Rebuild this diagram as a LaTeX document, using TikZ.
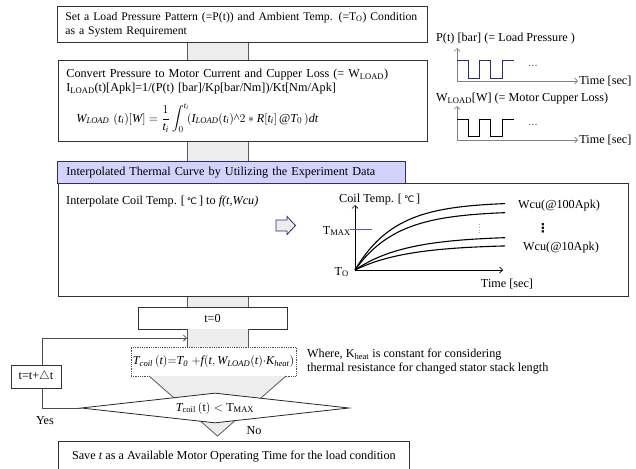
\documentclass[tikz,border=0pt]{standalone}
\usepackage{amsmath}
\usepackage{fontspec}
\setmainfont{Liberation Serif}
\newfontfamily\symfont{DejaVu Sans}
\usepackage{tikz}
\usetikzlibrary{calc,arrows.meta,positioning,shapes.geometric}
\definecolor{navyx}{HTML}{2A2A80}
\definecolor{headbg}{HTML}{D2D2FA}
\definecolor{shaftbg}{HTML}{EDEDED}
\definecolor{tickx}{HTML}{5858A8}
\newcommand{\degc}{{\symfont\small ℃}}
\tikzset{
  box/.style={draw=black!80,line width=0.8pt,fill=white,align=left,inner xsep=8pt,inner ysep=0pt},
  lbl/.style={inner sep=0pt},
  tip/.style={-{Straight Barb[length=3pt,width=6pt]}},
  axg/.style={draw=black!50,line width=0.7pt,tip},
  axk/.style={draw=black,line width=0.7pt,tip},
  curve/.style={black,line width=1.1pt},
  shaftedge/.style={draw=black!65,line width=0.8pt},
  loopline/.style={draw=black!70,line width=0.8pt}
}
\newcommand{\shaftseg}[2]{%
  \fill[shaftbg] (\shl,0 |- #1.south) rectangle (\shr,0 |- #2.north);
  \draw[shaftedge] (\shl,0 |- #1.south) -- (\shl,0 |- #2.north) (\shr,0 |- #1.south) -- (\shr,0 |- #2.north);}
\begin{document}
\begin{tikzpicture}[x=1pt,y=-1pt,font=\fontsize{12.2}{14}\selectfont]
\useasboundingbox (0,0) rectangle (636,468);
\def\shl{187}\def\shr{248}

\node[box,anchor=north west,minimum width=370pt,minimum height=36pt,text width=354pt,font=\fontsize{11.7}{14}\selectfont] (req) at (57,6)
  {\mbox{Set a Load Pressure Pattern (=P(t)) and Ambient Temp. (=T$_{\mathrm{O}}$) Condition}\\as a System Requirement};
\node[box,anchor=north west,minimum width=369pt,minimum height=81pt,text width=353pt] (conv) at (58,60)
  {Convert Pressure to Motor Current and Cupper Loss (= W$_{\mathrm{LOAD}}$)\\
   I$_{\mathrm{LOAD}}$(t)[Apk]=1/(P(t) [bar]/Kp[bar/Nm])/Kt[Nm/Apk]\\[9pt]
   \hspace*{10pt}$\mathit{W_{LOAD}}\ (\mathit{t_i})[\mathit{W}]=\dfrac{1}{\mathit{t_i}}\displaystyle\int_0^{\mathit{t_i}}\!(\mathit{I_{LOAD}}(\mathit{t_i})\text{\textasciicircum}2*\mathit{R}[\mathit{t_i}]\,@\mathit{T}_0\,)\mathit{dt}$};
\node[box,anchor=north west,minimum width=570pt,minimum height=113pt] (therm) at (58,183) {};
\node[box,anchor=north west,minimum width=348pt,minimum height=22pt,text width=330pt,fill=headbg,draw=navyx,inner xsep=9pt] (hdr) at (57,161)
  {Interpolated Thermal Curve by Utilizing the Experiment Data};
\node[lbl,anchor=west] (interp) at (66,202) {Interpolate Coil Temp. [\,\degc\,] to \textit{f(t,Wcu)}};
\draw[navyx,line width=0.8pt,fill=shaftbg] (276,220) -- (287,220) -- (287,216.5) -- (295.5,225.5) -- (287,234.5) -- (287,231) -- (276,231) -- cycle;

\coordinate (c0) at (355,270);
\draw[axk] (c0) -- ++(0,-65);
\draw[axk] (c0) -- ++(148,0);
\node[lbl,anchor=west] (ctemp) at (339,200) {Coil Temp. [\,\degc\,]};
\node[lbl] (ctime) at (507,284) {Time [sec]};
\node[lbl,anchor=east] (tzero) at (349,272) {T$_{\mathrm{O}}$};
\node[lbl,anchor=east] (tmax) at (351,231) {T$_{\mathrm{MAX}}$};
\draw[tickx,line width=1pt] (350,229) -- (372,229);
\foreach \a/\k in {68/40,59/42,34/50,25.5/52}
  \draw[curve] plot[domain=0:150,samples=50] ({355+\x},{270-\a*(1-exp(-\x/\k))});
\draw[black!35,dotted,line width=0.8pt] (479,224) -- (479,234);
\node[lbl,anchor=west] (w100) at (518,206) {Wcu(@100Apk)};
\node[lbl] (wdots) at (543,228) {{\symfont\bfseries ⋮}};
\node[lbl,anchor=west] (w10) at (523,248) {Wcu(@10Apk)};

\node[lbl,anchor=west] (plab) at (436,39) {P(t) [bar] (= Load Pressure )};
\coordinate (p0) at (457,81);
\draw[axg] (p0) -- ++(0,-33);
\draw[axg] (p0) -- ++(121,0) node[lbl,anchor=west,xshift=1pt,black] (ptime) {Time [sec]};
\draw[navyx,line width=0.8pt] (457,60) -| (468,78) -| (479,60) -| (490,78) -| (502,60) -- (514,60);
\node[lbl,black!60] (pdots) at (533,66) {...};
\node[lbl,anchor=west] (wlab) at (436,99) {W$_{\mathrm{LOAD}}$[W] (= Motor Cupper Loss)};
\coordinate (w0) at (457,140);
\draw[axg] (w0) -- ++(0,-34);
\draw[axg] (w0) -- ++(121,0) node[lbl,anchor=west,xshift=1pt,black] (wtime) {Time [sec]};
\draw[black,line width=0.8pt] (457,119) -| (468,136) -| (479,119) -| (490,136) -| (502,119) -- (514,119);
\node[lbl,black!60] (wdots2) at (533,125) {...};

\node[box,align=center,minimum width=149pt,minimum height=22pt] (tzero) at (212.5,318) {t=0};
\node[box,align=center,draw=black!70,densely dotted,minimum width=163pt,minimum height=29pt,inner xsep=2pt] (calc) at (213.5,361.5)
  {$\mathit{T_{coil}\,(t){=}T_0\;{+}f(t,W_{LOAD}(t){\cdot}K_{heat})}$};
\shaftseg{req}{conv}
\shaftseg{conv}{hdr}
\shaftseg{therm}{tzero}
\shaftseg{tzero}{calc}
\coordinate (tipL) at ({\shl-38},376);
\coordinate (tipR) at ({\shr+38},376);
\coordinate (tipB) at ({(\shl+\shr)/2},436);
\fill[shaftbg] (tipL) -- (tipB) -- (tipR) -- cycle;
\draw[shaftedge] (tipL) -- (tipB) -- (tipR);
\node[diamond,draw=black!85,line width=0.8pt,fill=white,aspect=8.9,inner sep=0pt,minimum width=268pt,minimum height=30pt] (dec) at (215,408)
  {\raisebox{-3pt}{$\mathit{T}_{\mathrm{coil}}\,(\mathrm{t})<\mathrm{T}_{\mathrm{MAX}}$}};
\node[box,align=center,minimum width=50pt,minimum height=23pt,inner xsep=2pt] (tinc) at (36,376.5) {t=t+$\triangle$t};
\coordinate (entry) at (\shl,338);
\draw[loopline,tip] ([xshift=6pt]tinc.north) |- (entry);
\draw[loopline] ([xshift=6pt]tinc.south) |- (dec.west);
\node[lbl] (yes) at (45,421) {Yes};
\node[lbl] (no) at (254,431) {No};
\node[lbl,anchor=west,align=left] (note) at (307,362)
  {Where, K$_{\mathrm{heat}}$ is constant for considering\\thermal resistance for changed stator stack length};
\node[box,align=center,anchor=north west,minimum width=351pt,minimum height=30pt] (save) at (58,441)
  {\raisebox{3pt}{Save {\large\textit{t}} as a Available Motor Operating Time for the load condition}};
\end{tikzpicture}
\end{document}
